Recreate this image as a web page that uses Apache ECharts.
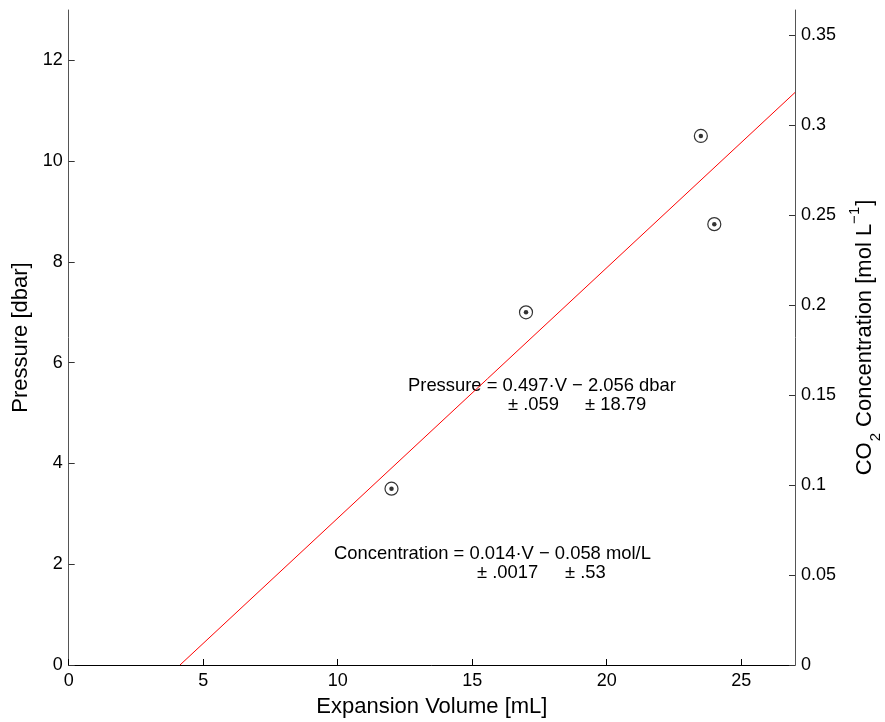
<!DOCTYPE html>
<html>
<head>
<meta charset="utf-8">
<title>Pressure vs Expansion Volume</title>
<script src="https://cdn.jsdelivr.net/npm/echarts@6/dist/echarts.min.js"></script>
<style>
  html, body { margin: 0; padding: 0; background: #ffffff; }
  #chart { width: 885px; height: 722px; }
</style>
</head>
<body>
<div id="chart"></div>
<script>
// Measured samples: expansion volume (mL) and pressure (dbar)
const volumes = [12, 17, 23.5, 24];
const pressures = [3.5, 7, 10.5, 8.75];

// Least-squares fit: Pressure = 0.497·V − 2.056 dbar, drawn from its x-intercept to the axis end
const fitVolumes = [4.137, 27];
const fitPressures = [0, 11.363];

// Axis tick values
const volumeTicks = [0, 5, 10, 15, 20, 25];
const pressureTicks = [0, 2, 4, 6, 8, 10, 12];
const concentrationTicks = [0, 0.05, 0.1, 0.15, 0.2, 0.25, 0.3, 0.35];

const FONT = '"Liberation Sans", Arial, Helvetica, sans-serif';

const samplePoints = volumes.map((v, i) => [v, pressures[i]]);
const fitPoints = fitVolumes.map((v, i) => [v, fitPressures[i]]);

const chart = echarts.init(document.getElementById('chart'), null, { renderer: 'canvas' });

const tickLabelStyle = { fontFamily: FONT, fontSize: 18, color: '#000' };
const noteFont = '18.4px ' + FONT;

// Fit-equation annotation, one text element per fragment
function note(text, x, y) {
  return {
    type: 'text',
    x: x,
    y: y,
    style: { text: text, font: noteFont, fill: '#000', align: 'left', verticalAlign: 'middle' }
  };
}

chart.setOption({
  backgroundColor: '#ffffff',
  animation: false,
  textStyle: { fontFamily: FONT },
  grid: { left: 68.7, right: 90, top: 10, bottom: 57, containLabel: false, outerBoundsMode: 'none' },
  xAxis: {
    type: 'value',
    min: 0,
    max: 27,
    name: 'Expansion Volume [mL]',
    nameLocation: 'middle',
    nameGap: 31,
    nameTextStyle: { fontFamily: FONT, fontSize: 22, color: '#000' },
    axisLine: { show: true, onZero: false, lineStyle: { color: '#000', width: 1 } },
    axisTick: { show: true, inside: true, length: 6, customValues: volumeTicks, lineStyle: { color: '#000' } },
    axisLabel: Object.assign({ margin: 7, customValues: volumeTicks }, tickLabelStyle),
    splitLine: { show: false }
  },
  yAxis: [
    {
      type: 'value',
      position: 'left',
      min: 0,
      max: 13,
      name: 'Pressure [dbar]',
      nameLocation: 'middle',
      nameRotate: 90,
      nameGap: 35,
      nameTextStyle: { fontFamily: FONT, fontSize: 22, color: '#000' },
      axisLine: { show: true, onZero: false, lineStyle: { color: '#555', width: 1 } },
      axisTick: { show: true, inside: true, length: 6, customValues: pressureTicks, lineStyle: { color: '#333' } },
      axisLabel: Object.assign({ margin: 6, customValues: pressureTicks }, tickLabelStyle),
      splitLine: { show: false }
    },
    {
      type: 'value',
      position: 'right',
      min: 0,
      max: 0.3639,
      name: '{n|CO}{sub|2}{n| Concentration [mol L}{sup|−1}{n|]}',
      nameLocation: 'middle',
      nameRotate: 90,
      nameGap: 52,
      nameTextStyle: {
        fontFamily: FONT,
        fontSize: 22,
        color: '#000',
        rich: {
          n: { fontFamily: FONT, fontSize: 22, color: '#000', lineHeight: 36, verticalAlign: 'middle' },
          sub: { fontFamily: FONT, fontSize: 15, color: '#000', lineHeight: 15, verticalAlign: 'bottom', padding: [0, 0, 0, 1] },
          sup: { fontFamily: FONT, fontSize: 15, color: '#000', lineHeight: 15, verticalAlign: 'top', padding: [0, 1, 0, 0] }
        }
      },
      axisLine: { show: true, onZero: false, lineStyle: { color: '#555', width: 1 } },
      axisTick: { show: true, inside: true, length: 6, customValues: concentrationTicks, lineStyle: { color: '#333' } },
      axisLabel: Object.assign({ margin: 6, customValues: concentrationTicks }, tickLabelStyle),
      splitLine: { show: false }
    }
  ],
  series: [
    {
      name: 'fit',
      type: 'line',
      data: fitPoints,
      showSymbol: false,
      symbol: 'none',
      lineStyle: { color: '#ff0000', width: 1 },
      silent: true,
      z: 2
    },
    {
      name: 'samples',
      type: 'scatter',
      data: samplePoints,
      symbol: 'circle',
      symbolSize: 13,
      itemStyle: { color: 'rgba(0,0,0,0)', borderColor: '#000', borderWidth: 1.2 },
      z: 3
    },
    {
      name: 'sample centres',
      type: 'scatter',
      data: samplePoints,
      symbol: 'circle',
      symbolSize: 4.5,
      itemStyle: { color: '#000' },
      z: 4
    }
  ],
  graphic: [
    note('Pressure = 0.497·V − 2.056 dbar', 408, 386),
    note('± .059', 508, 405),
    note('± 18.79', 585, 405),
    note('Concentration = 0.014·V − 0.058 mol/L', 334, 554),
    note('± .0017', 477, 573),
    note('± .53', 565, 573)
  ]
});
</script>
</body>
</html>
